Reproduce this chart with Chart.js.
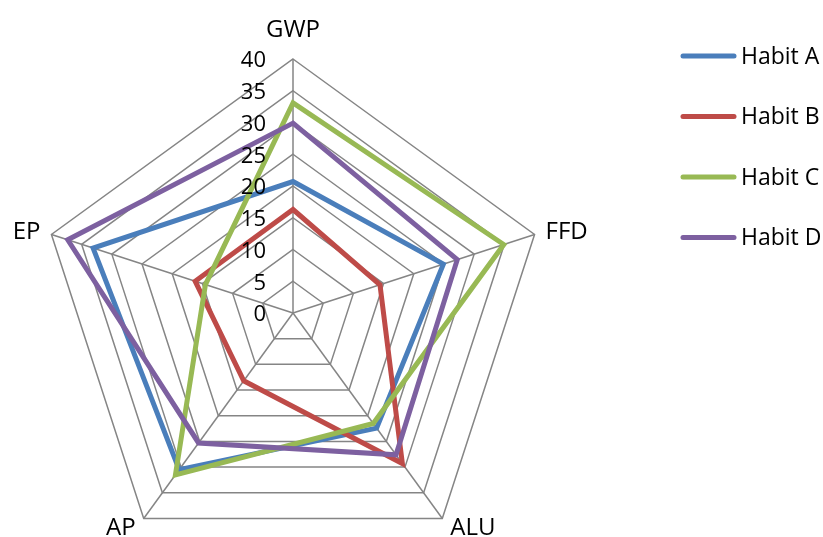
<!DOCTYPE html>
<html>
<head>
<meta charset="utf-8">
<script src="https://cdn.jsdelivr.net/npm/chart.js@4.4.1/dist/chart.umd.min.js"></script>
<style>
  html, body { margin: 0; padding: 0; background: #ffffff; }
  #wrap { width: 823px; height: 537px; position: relative; }
</style>
</head>
<body>
<div id="wrap"><canvas id="c"></canvas></div>
<script>
// Impact categories (radar axes)
const categories = ['GWP', 'FFD', 'ALU', 'AP', 'EP'];

// Scores per habit, in category order
const habitA = [20.7, 24.9, 22.4, 30.5, 33.1];
const habitB = [16.3, 14.4, 29.3, 13.2, 16.2];
const habitC = [33.1, 34.9, 21.5, 31.5, 14.5];
const habitD = [29.9, 27.2, 27.6, 25.3, 37.3];

// Radial tick labels
const tickValues = [0, 5, 10, 15, 20, 25, 30, 35, 40];

const seriesNames = ['Habit A', 'Habit B', 'Habit C', 'Habit D'];
const seriesData = [habitA, habitB, habitC, habitD];
const seriesColors = ['#4A7EBB', '#BE4B48', '#98B954', '#7D60A0'];

const FONT = '"Open Sans", "Liberation Sans", sans-serif';
const GRID = '#858585';

// Fixed placement of the radar inside the canvas
const CENTER_X = 293, CENTER_Y = 313, RADIUS = 254;

// Draws tick labels, axis titles and the legend on top of the radar
const decorPlugin = {
  id: 'radarDecor',
  afterDraw(chart) {
    const ctx = chart.ctx;
    const scale = chart.scales.r;
    ctx.save();
    ctx.fillStyle = '#000000';

    // tick labels along the vertical axis, left of it
    ctx.font = '22px ' + FONT;
    ctx.textAlign = 'right';
    ctx.textBaseline = 'middle';
    tickValues.forEach(v => {
      const p = scale.getPointPositionForValue(0, v);
      ctx.fillText(String(v), scale.xCenter - 27, p.y + 2);
    });

    // axis titles
    ctx.font = '24px ' + FONT;
    categories.forEach((name, i) => {
      const p = scale.getPointPositionForValue(i, scale.max);
      const a = scale.getIndexAngle(i) - Math.PI / 2;
      const cos = Math.cos(a), sin = Math.sin(a);
      let x = p.x, y = p.y;
      if (Math.abs(cos) < 0.05) {
        ctx.textAlign = 'center';
        y = p.y - 29;
      } else {
        ctx.textAlign = cos > 0 ? 'left' : 'right';
        const dx = sin > 0.5 ? 8 : 11;
        x = p.x + (cos > 0 ? dx : -dx);
        y = p.y + (sin > 0.5 ? 10 : -2);
      }
      ctx.textBaseline = 'middle';
      ctx.fillText(name, x, y);
    });

    // legend
    ctx.font = '23px ' + FONT;
    ctx.textAlign = 'left';
    ctx.textBaseline = 'middle';
    chart.data.datasets.forEach((ds, k) => {
      const y = 56 + 60.5 * k;
      ctx.beginPath();
      ctx.lineCap = 'round';
      ctx.lineWidth = 5;
      ctx.strokeStyle = ds.borderColor;
      ctx.moveTo(683, y);
      ctx.lineTo(734, y);
      ctx.stroke();
      ctx.fillStyle = '#000000';
      ctx.fillText(ds.label, 741, y + 1);
    });
    ctx.restore();
  }
};

const datasets = seriesNames.map((name, k) => ({
  label: name,
  data: seriesData[k],
  borderColor: seriesColors[k],
  backgroundColor: seriesColors[k],
  borderWidth: 5,
  borderJoinStyle: 'miter',
  fill: false,
  pointRadius: 0,
  pointHoverRadius: 0,
  order: seriesNames.length - k
}));

new Chart(document.getElementById('c'), {
  type: 'radar',
  data: { labels: categories, datasets },
  options: {
    responsive: true,
    maintainAspectRatio: false,
    animation: false,
    events: [],
    plugins: {
      legend: { display: false },
      tooltip: { enabled: false }
    },
    elements: { line: { tension: 0 } },
    scales: {
      r: {
        min: 0,
        max: 40,
        beginAtZero: true,
        ticks: { stepSize: 5, display: false },
        pointLabels: { display: false },
        grid: { color: GRID, lineWidth: 1.5 },
        angleLines: { color: GRID, lineWidth: 1.5 },
        afterFit(scale) {
          scale.xCenter = CENTER_X;
          scale.yCenter = CENTER_Y;
          scale.drawingArea = RADIUS;
        }
      }
    }
  },
  plugins: [decorPlugin]
});
</script>
</body>
</html>
